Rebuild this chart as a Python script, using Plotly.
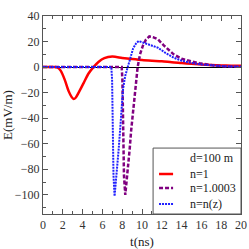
import plotly.graph_objects as go

# n = 1
t_red = [0, 1.2, 1.5, 1.8, 2.2, 2.6, 2.9, 3.1, 3.3, 3.6, 4.1, 4.6, 5.1, 5.6, 6.2, 7.0, 8.0, 9, 10, 11, 12, 13, 14, 15, 16, 17, 18, 19, 20]
e_red = [0, 0, -0.5, -3, -10, -19, -23.5, -25, -24, -20, -12.5, -5, 0, 4, 7, 8.2, 7.2, 6.3, 5.5, 5, 4.6, 3.8, 3.2, 2.6, 2, 1.6, 1.3, 1.1, 1]

# n = 1.0003
t_pur = [0, 7.95, 8.02, 8.1, 8.18, 8.31, 8.45, 8.6, 8.75, 8.9, 9.1, 9.32, 9.56, 9.8, 10.1, 10.4, 10.74, 11.1, 11.6, 12.2, 12.8, 13.2, 14, 14.9, 15.8, 16.6, 17.5, 18.5, 20]
e_pur = [0, 0, -10, -45, -85, -100, -90, -78, -64.6, -50, -33, -17.5, 0, 10, 17, 21.5, 24, 23.5, 21.8, 17, 12.5, 10, 6.5, 4.7, 3, 2, 1, 0.5, 0.2]

# n = n(z)
t_blu = [0, 6.9, 6.98, 7.05, 7.12, 7.23, 7.35, 7.5, 7.64, 7.8, 7.95, 8.08, 8.3, 8.55, 8.8, 9.1, 9.4, 9.66, 10, 10.5, 11, 11.6, 12.4, 13.2, 14, 15, 16, 17, 18, 19, 20]
e_blu = [0, 0, -10, -45, -85, -101, -92, -78, -64.6, -48, -31, -17.5, -7, 0, 8, 14.5, 18.5, 20.4, 19.5, 18, 16.8, 15.2, 11, 7.4, 5, 3.2, 2, 1.3, 0.8, 0.5, 0.3]

x_ticks = [0, 2, 4, 6, 8, 10, 12, 14, 16, 18, 20]
y_ticks = [-100, -80, -60, -40, -20, 0, 20, 40]

legend_title = "d=100 m"
series_names = ["n=1", "n=1.0003", "n=n(z)"]

FONT = "Liberation Serif, Times New Roman, serif"

styles = [
    dict(color="#ff0000", width=2.5),
    dict(color="#800080", width=2.5, dash="4px,2px"),
    dict(color="#2020ff", width=2, dash="2px,1px"),
]
data = [(t_red, e_red), (t_pur, e_pur), (t_blu, e_blu)]

fig = go.Figure()
for (tx, ey), name, st in zip(data, series_names, styles):
    line = dict(st)
    if name == "n=1":
        line.update(shape="spline", smoothing=0.8)
    fig.add_trace(go.Scatter(x=tx, y=ey, mode="lines", name=name, line=line, showlegend=False))

axis_common = dict(showline=True, mirror="ticks", linecolor="#555555", linewidth=1,
                   ticks="inside", ticklen=5, tickcolor="#555555", showgrid=False,
                   automargin=False,
                   tickfont=dict(family=FONT, size=12, color="#333333"))

fig.update_xaxes(range=[0, 20], tickvals=x_ticks, zeroline=False,
                 title=dict(text="t(ns)", font=dict(family=FONT, size=13, color="#222222")),
                 minor=dict(ticks="inside", ticklen=3, dtick=1, tickcolor="#555555"),
                 **axis_common)
fig.update_yaxes(range=[-115, 40], tickvals=y_ticks, zeroline=True, zerolinecolor="#000000",
                 zerolinewidth=1,
                 title=dict(text="E(mV/m)", font=dict(family=FONT, size=13, color="#222222")),
                 minor=dict(ticks="inside", ticklen=3, dtick=10, tickcolor="#555555"),
                 **axis_common)

# manual legend box (paper coordinates)
box_x0, box_y1 = 0.556, 0.333
row_y = [0.283, 0.202, 0.131, 0.0505]
fig.add_shape(type="rect", xref="paper", yref="paper", x0=box_x0, x1=1.0, y0=0.0, y1=box_y1,
              line=dict(color="#555555", width=1), fillcolor="white", layer="above")
fig.add_annotation(xref="paper", yref="paper", x=0.732, y=row_y[0], text=legend_title,
                   showarrow=False, xanchor="left", yanchor="middle",
                   font=dict(family=FONT, size=12, color="#222222"))
for name, st, yy in zip(series_names, styles, row_y[1:]):
    fig.add_shape(type="line", xref="paper", yref="paper", x0=0.586, x1=0.657, y0=yy, y1=yy,
                  line=st, layer="above")
    fig.add_annotation(xref="paper", yref="paper", x=0.732, y=yy, text=name,
                       showarrow=False, xanchor="left", yanchor="middle",
                       font=dict(family=FONT, size=12, color="#222222"))

fig.update_layout(
    width=249, height=249,
    margin=dict(l=43, r=8, t=16, b=35),
    paper_bgcolor="white", plot_bgcolor="white",
    font=dict(family=FONT, size=12, color="#222222"),
    showlegend=False,
)

fig.write_html("out.html", config={"displayModeBar": False},
               post_script="document.body.style.margin='0';document.body.style.overflow='hidden';")
